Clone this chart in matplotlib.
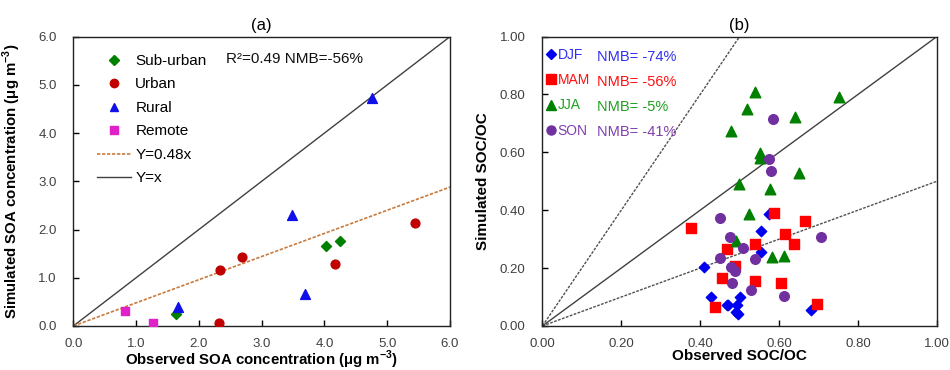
import matplotlib
matplotlib.use("Agg")
import matplotlib.pyplot as plt
from matplotlib.lines import Line2D
import numpy as np

plt.rcParams['font.family'] = ['Liberation Sans', 'DejaVu Sans']

# ---------------- Panel (a) data ----------------
sub_x = [1.64, 4.02, 4.24]
sub_y = [0.25, 1.65, 1.76]
urb_x = [2.32, 2.34, 2.69, 4.16, 5.45]
urb_y = [0.06, 1.16, 1.44, 1.29, 2.13]
rur_x = [1.67, 3.49, 3.69, 4.75]
rur_y = [0.40, 2.30, 0.67, 4.72]
rem_x = [0.82, 1.27]
rem_y = [0.32, 0.06]
fit_slope_a = 0.48

# ---------------- Panel (b) data ----------------
djf_x = [0.410, 0.427, 0.467, 0.471, 0.494, 0.502, 0.492, 0.497, 0.555, 0.555, 0.574, 0.681]
djf_y = [0.203, 0.099, 0.071, 0.074, 0.072, 0.099, 0.047, 0.040, 0.328, 0.255, 0.386, 0.055]
mam_x = [0.378, 0.438, 0.456, 0.467, 0.488, 0.538, 0.538, 0.588, 0.605, 0.616, 0.638, 0.665, 0.697]
mam_y = [0.337, 0.065, 0.167, 0.267, 0.206, 0.285, 0.156, 0.390, 0.148, 0.319, 0.284, 0.363, 0.076]
jja_x = [0.540, 0.520, 0.477, 0.640, 0.751, 0.551, 0.551, 0.498, 0.576, 0.651, 0.523, 0.492, 0.583, 0.613]
jja_y = [0.808, 0.749, 0.674, 0.723, 0.791, 0.598, 0.579, 0.491, 0.472, 0.528, 0.388, 0.295, 0.237, 0.242]
son_x = [0.586, 0.574, 0.580, 0.451, 0.476, 0.508, 0.450, 0.478, 0.488, 0.538, 0.480, 0.530, 0.612, 0.706]
son_y = [0.717, 0.576, 0.535, 0.372, 0.307, 0.271, 0.235, 0.203, 0.191, 0.231, 0.149, 0.123, 0.105, 0.307]
seasons = ['DJF', 'MAM', 'JJA', 'SON']
nmb_labels = ['NMB= -74%', 'NMB= -56%', 'NMB= -5%', 'NMB= -41%']
ref_slopes_b = [2.0, 0.5]

fig = plt.figure(figsize=(9.5, 3.7), dpi=100)
axa = fig.add_axes([0.0772, 0.119, 0.3965, 0.782])
axb = fig.add_axes([0.5709, 0.119, 0.4152, 0.782])

tick_color = '#404040'
for ax in (axa, axb):
    ax.tick_params(direction='in', length=4, width=1, labelsize=9.5, colors='black',
                   labelcolor=tick_color, top=False, right=False)
    ax.tick_params(axis='y', pad=12)
    ax.tick_params(axis='x', pad=8.5)
    for s in ax.spines.values():
        s.set_color('#222222')
        s.set_linewidth(1.0)

# ---- Panel (a) ----
xx = np.array([0, 6.0])
axa.plot(xx, xx, color='#404040', lw=1.0, zorder=1)
axa.plot(xx, fit_slope_a * xx, color='#C87A3C', lw=1.2, ls=(0, (2, 1)), zorder=1)
axa.scatter(sub_x, sub_y, marker='D', s=26, color='#008000', zorder=3)
axa.scatter(urb_x, urb_y, marker='o', s=40, color='#C00000', zorder=3)
axa.scatter(rur_x, rur_y, marker='^', s=50, color='#1010E8', zorder=3)
axa.scatter(rem_x, rem_y, marker='s', s=40, color='#E020C8', zorder=3)
axa.set_xlim(0, 6)
axa.set_ylim(0, 6)
ta = np.arange(0, 6.01, 1.0)
axa.set_xticks(ta)
axa.set_yticks(ta)
axa.set_xticklabels([f'{v:.1f}' for v in ta])
axa.set_yticklabels([f'{v:.1f}' for v in ta])
axa.set_xlabel('Observed SOA concentration (μg m$^{\\mathregular{-3}}$)', fontsize=10.8, fontweight='bold')
axa.set_ylabel('Simulated SOA concentration (μg m$^{\\mathregular{-3}}$)', fontsize=10.8, fontweight='bold')
axa.xaxis.set_label_coords(0.5, -0.078)
axa.yaxis.set_label_coords(-0.1335, 0.5)
axa.set_title('(a)', fontsize=12, pad=5)

handles_a = [
    Line2D([], [], marker='D', ls='none', color='#008000', markersize=5),
    Line2D([], [], marker='o', ls='none', color='#C00000', markersize=6),
    Line2D([], [], marker='^', ls='none', color='#1010E8', markersize=6),
    Line2D([], [], marker='s', ls='none', color='#E020C8', markersize=5.5),
    Line2D([], [], color='#C87A3C', lw=1.2, ls=(0, (2, 1))),
    Line2D([], [], color='#404040', lw=1.0),
]
labels_a = ['Sub-urban', 'Urban', 'Rural', 'Remote', 'Y=0.48x', 'Y=x']
axa.legend(handles_a, labels_a, loc='upper left', frameon=False, fontsize=11,
           bbox_to_anchor=(0.063, 0.94), handlelength=2.2, handletextpad=0.3,
           labelspacing=0.62, borderaxespad=0.0, borderpad=0.0)
axa.text(0.405, 0.923, 'R²=0.49 NMB=-56%', transform=axa.transAxes, fontsize=11,
         va='center', ha='left', color='#111111')

# ---- Panel (b) ----
xb = np.array([0, 1.0])
axb.plot(xb, xb, color='#404040', lw=1.0, zorder=1)
for sl in ref_slopes_b:
    axb.plot(xb, sl * xb, color='#505050', lw=1.0, ls=(0, (2, 1)), zorder=1)
cols = ['#0000F0', '#FF0000', '#008000', '#7030A0']
txt_cols = ['#3030F0', '#FF1010', '#20A020', '#8040B0']
mk = ['D', 's', '^', 'o']
sz = [28, 48, 58, 48]
data = [(djf_x, djf_y), (mam_x, mam_y), (jja_x, jja_y), (son_x, son_y)]
for (x, y), c, m, s in zip(data, cols, mk, sz):
    axb.scatter(x, y, marker=m, s=s, color=c, zorder=3)
axb.set_xlim(0, 1)
axb.set_ylim(0, 1)
tb = np.arange(0, 1.001, 0.2)
axb.set_xticks(tb)
axb.set_yticks(tb)
axb.set_xticklabels([f'{v:.2f}' for v in tb])
axb.set_yticklabels([f'{v:.2f}' for v in tb])
axb.set_xlabel('Observed SOC/OC', fontsize=11, fontweight='bold')
axb.set_ylabel('Simulated SOC/OC', fontsize=11, fontweight='bold')
axb.xaxis.set_label_coords(0.5, -0.078)
axb.yaxis.set_label_coords(-0.1326, 0.5)
axb.set_title('(b)', fontsize=12, pad=5)

handles_b = [Line2D([], [], marker=m, ls='none', color=c, markersize=ms)
             for m, c, ms in zip(mk, cols, [5, 6.5, 6.5, 6.5])]
leg = axb.legend(handles_b, seasons, loc='upper left', frameon=False, fontsize=10,
                 bbox_to_anchor=(0.012, 0.96), handlelength=0.6, handletextpad=0.15,
                 labelspacing=0.8, borderaxespad=0.0, borderpad=0.0)
for t, c in zip(leg.get_texts(), txt_cols):
    t.set_color(c)
row_y = [0.930, 0.843, 0.756, 0.672]
for lab, c, ry in zip(nmb_labels, txt_cols, row_y):
    axb.text(0.139, ry, lab, transform=axb.transAxes, fontsize=10.5, color=c,
             va='center', ha='left')

fig.savefig('out.png', dpi=100)
